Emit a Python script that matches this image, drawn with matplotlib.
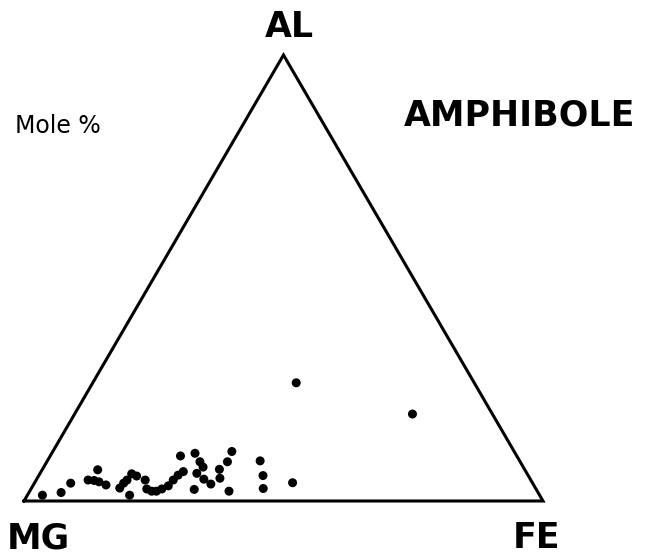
import numpy as np
import matplotlib
matplotlib.use("Agg")
import matplotlib.pyplot as plt

# ======== data: amphibole compositions, mole % (AL, FE; MG = remainder) ========
AL = [1.3, 1.9, 4.0, 7.0, 4.7, 4.6, 4.3, 3.6, 2.9, 4.0, 4.7, 1.3, 6.1, 5.6,
      4.7, 2.7, 2.2, 2.2, 2.7, 3.4, 10.1, 10.7, 8.8, 7.6, 6.2, 6.6, 5.8, 4.7,
      4.9, 3.8, 2.6, 7.1, 5.1, 8.8, 11.1, 2.2, 9.0, 5.7, 2.8, 4.1, 26.5, 19.5]
FE = [2.9, 6.2, 7.0, 10.7, 10.0, 11.2, 12.3, 14.0, 17.0, 17.2, 17.5, 19.7, 17.7, 18.9,
      21.0, 22.3, 23.5, 24.4, 25.2, 26.1, 25.1, 27.6, 29.5, 30.7, 30.2, 27.4, 26.8, 26.4,
      32.2, 34.1, 31.5, 34.1, 35.2, 34.8, 34.5, 38.4, 41.0, 43.2, 44.7, 49.7, 39.2, 65.1]
VERTEX_LABELS = ["MG", "FE", "AL"]

H = np.sqrt(3) / 2

def tern_xy(al, fe):
    al = np.asarray(al, dtype=float)
    fe = np.asarray(fe, dtype=float)
    return fe + al / 2, al * H

fig = plt.figure(figsize=(6.54, 5.55), dpi=100)
ax = fig.add_axes([0, 0, 1, 1])
ax.set_xlim(-4.624, 121.39)
ax.set_ylim(-10.485, 97.28)
ax.axis("off")

# triangle
tx, ty = tern_xy([0, 0, 100, 0], [0, 100, 0, 0])
ax.plot(tx, ty, color="black", linewidth=2.2, solid_joinstyle="miter")

# points
px, py = tern_xy(AL, FE)
ax.scatter(px, py, s=42, color="black", edgecolors="none", zorder=3)

# vertex labels
bold = dict(family="DejaVu Sans", fontweight="bold", fontsize=25, color="black")
ax.text(2.79, -9.13, VERTEX_LABELS[0], ha="center", va="baseline", **bold)
ax.text(98.84, -9.13, VERTEX_LABELS[1], ha="center", va="baseline", **bold)
ax.text(51.06, 90.1, VERTEX_LABELS[2], ha="center", va="baseline", **bold)

fig.text(520 / 654, 1 - 125 / 555, "AMPHIBOLE", ha="center", va="baseline", **bold)
fig.text(15 / 654, 1 - 133 / 555, "Mole %", ha="left", va="baseline",
         family="DejaVu Sans", fontsize=17, color="black")

fig.savefig("out.png", dpi=100)
